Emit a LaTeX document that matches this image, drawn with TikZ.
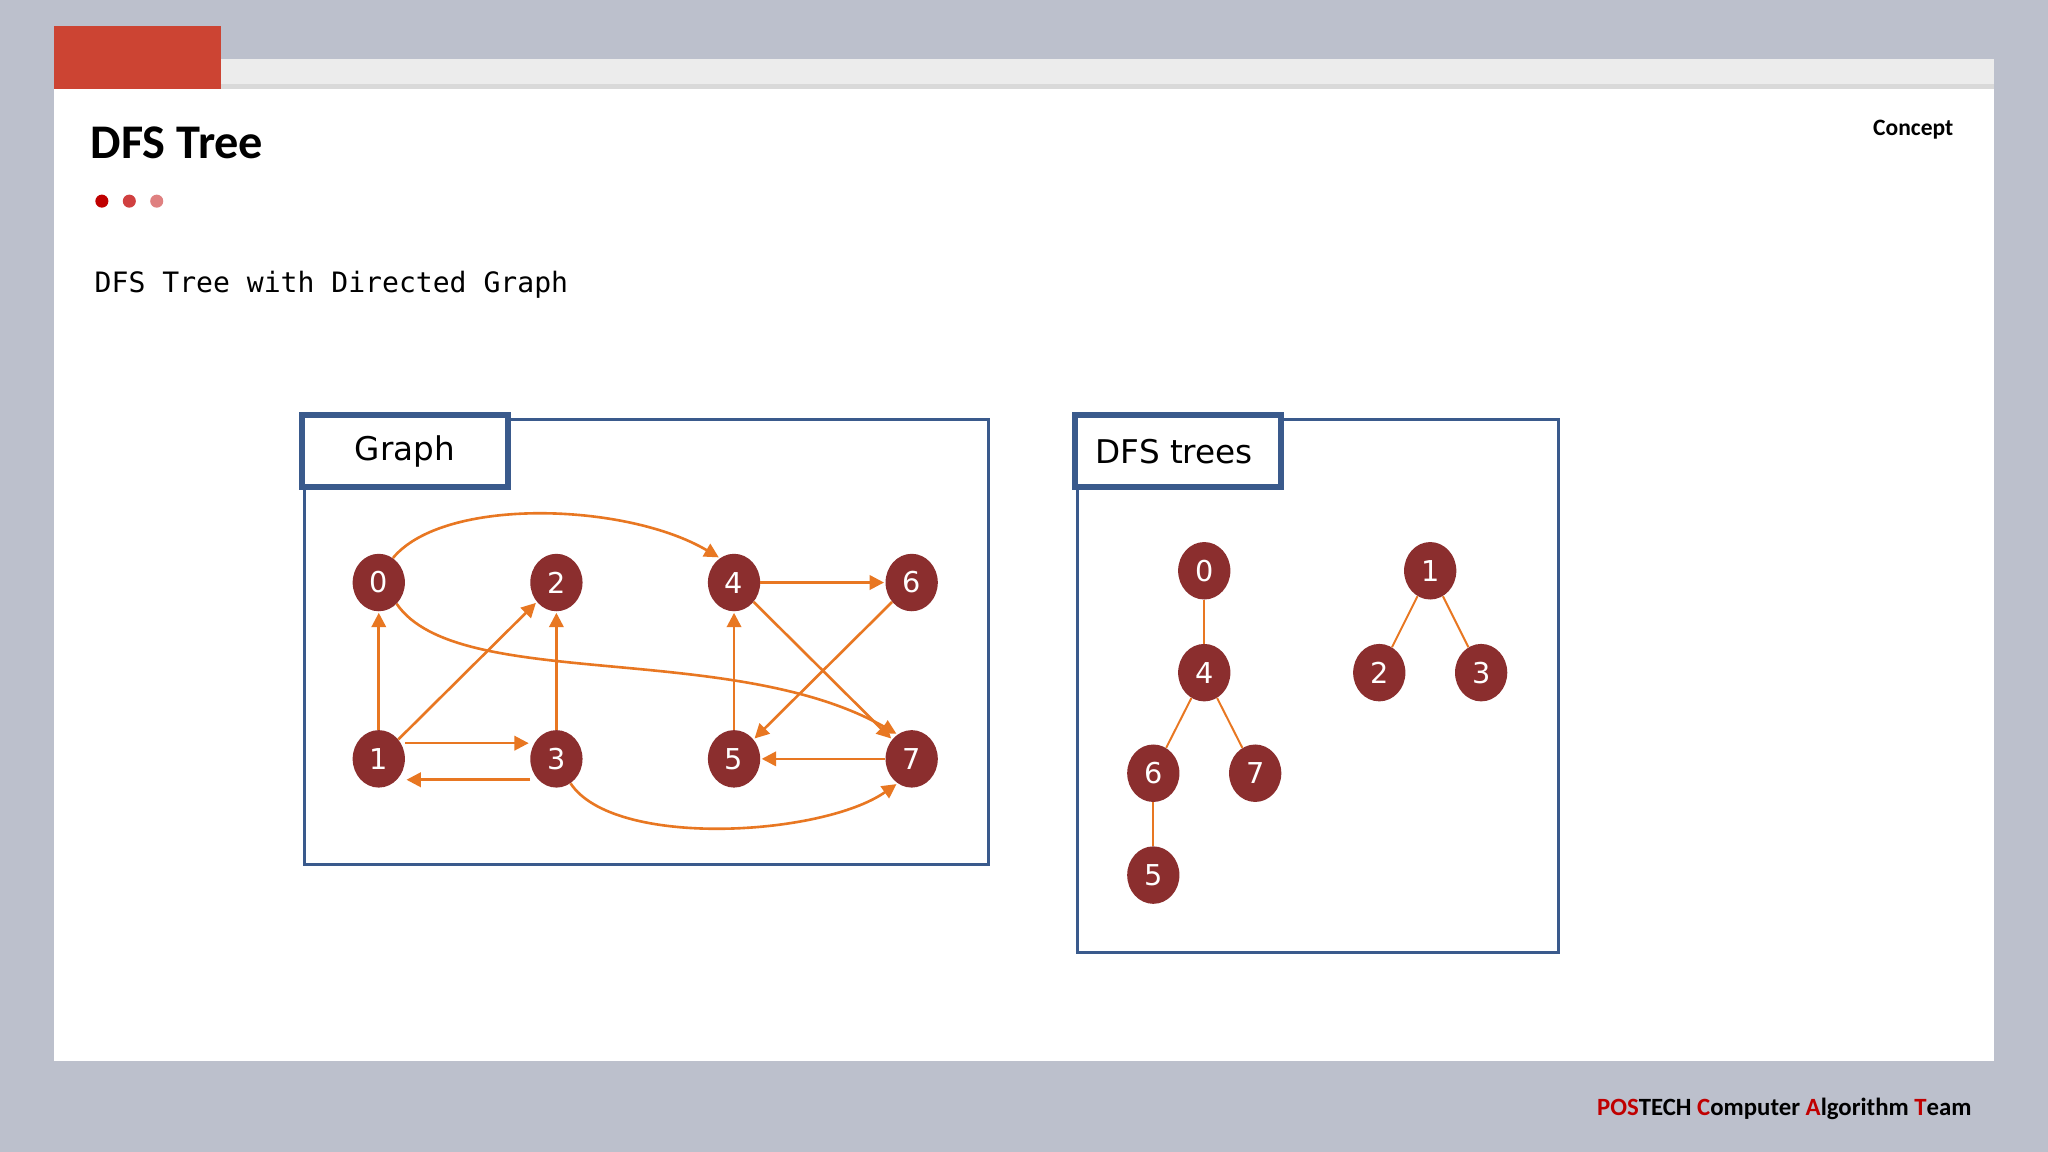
\documentclass[tikz,border=0pt]{standalone}
\usepackage{fontspec}
\setmainfont{Carlito}
\newfontfamily\monof{DejaVu Sans Mono}
\newfontfamily\labf{DejaVu Sans}
\usetikzlibrary{arrows.meta,shapes.geometric}
\definecolor{bgc}{HTML}{BCC0CC}
\definecolor{redbar}{HTML}{CC4433}
\definecolor{boxblue}{HTML}{3A5A8C}
\definecolor{nodec}{HTML}{8B2E2E}
\definecolor{edgec}{HTML}{E87722}
\definecolor{postred}{HTML}{C00000}
\tikzset{
  vtx/.style={ellipse, fill=nodec, minimum width=40pt, minimum height=44pt, inner sep=0pt, text=white, font=\labf\fontsize{22}{22}\selectfont},
  arc/.style={draw=edgec, line width=2pt, -{Triangle[length=11pt,width=11pt]}, shorten >=1pt},
  tedge/.style={draw=edgec, line width=1.5pt},
  frame/.style={draw=boxblue, line width=2.5pt},
  labbox/.style={draw=boxblue, line width=4.5pt, fill=white},
}
\begin{document}
\begin{tikzpicture}[x=1pt,y=-1pt]
\useasboundingbox (0,0) rectangle (1568,882);
\fill[bgc] (0,0) rectangle (1568,882);
\fill[white] (41,68) rectangle (1527,812);
\fill[gray!15] (169,45) rectangle (1527,68);
\fill[gray!30] (169,64) rectangle (1527,68);
\fill[redbar] (41,20) rectangle (169,68);
\node[anchor=base west, font=\bfseries\fontsize{37}{37}\selectfont] (title) at (66,121) {DFS Tree};
\fill[postred] (78,154) circle (5);
\fill[postred!75] (99,154) circle (5);
\fill[postred!50] (120,154) circle (5);
\node[anchor=base west, font=\monof\fontsize{21.5}{21.5}\selectfont] (sub) at (69,224) {DFS Tree with Directed Graph};
\node[anchor=base east, font=\bfseries\fontsize{18}{18}\selectfont] (concept) at (1499,104) {Concept};
\node[anchor=base east, font=\bfseries\fontsize{19}{19}\selectfont] (foot) at (1513,854) {\textcolor{postred}{POS}TECH \textcolor{postred}{C}omputer \textcolor{postred}{A}lgorithm \textcolor{postred}{T}eam};
% Graph box
\draw[frame] (233,321) rectangle (757,662);
\draw[labbox] (231,318) rectangle (389,373);
\node[font=\labf\fontsize{25}{25}\selectfont] (gl) at (310,346) {Graph};
\node[vtx] (g0) at (290,446) {0};
\node[vtx] (g2) at (426,446) {2};
\node[vtx] (g4) at (562,446) {4};
\node[vtx] (g6) at (698,446) {6};
\node[vtx] (g1) at (290,581) {1};
\node[vtx] (g3) at (426,581) {3};
\node[vtx] (g5) at (562,581) {5};
\node[vtx] (g7) at (698,581) {7};
\draw[arc] (g0.60) .. controls (340,380) and (480,385) .. (g4.120);
\draw[arc] (g0.-50) .. controls (350,530) and (560,490) .. (g7.120);
\draw[arc] (g1) -- (g0);
\draw[arc] (g1) -- (g2);
\draw[arc] ([yshift=12pt]g1.east) -- ([yshift=12pt]g3.west);
\draw[arc] ([yshift=-16pt]g3.west) -- ([yshift=-16pt]g1.east);
\draw[arc] (g3) -- (g2);
\draw[arc] (g4) -- (g6);
\draw[arc] (g4) -- (g7);
\draw[arc] (g6) -- (g5);
\draw[arc] (g5) -- (g4);
\draw[arc] (g7) -- (g5);
\draw[arc] (g3.-60) .. controls (470,650) and (630,640) .. (g7.-120);
% DFS trees box
\draw[frame] (825,321) rectangle (1193,729);
\draw[labbox] (823,318) rectangle (981,373);
\node[font=\labf\fontsize{25}{25}\selectfont] (tl) at (899,346) {DFS trees};
\node[vtx] (t0) at (922,437) {0};
\node[vtx] (t4) at (922,515) {4};
\node[vtx] (t6) at (883,592) {6};
\node[vtx] (t7) at (961,592) {7};
\node[vtx] (t5) at (883,670) {5};
\node[vtx] (t1) at (1095,437) {1};
\node[vtx] (t2) at (1056,515) {2};
\node[vtx] (t3) at (1134,515) {3};
\draw[tedge] (t0) -- (t4);
\draw[tedge] (t4) -- (t6);
\draw[tedge] (t4) -- (t7);
\draw[tedge] (t6) -- (t5);
\draw[tedge] (t1) -- (t2);
\draw[tedge] (t1) -- (t3);
\end{tikzpicture}
\end{document}
